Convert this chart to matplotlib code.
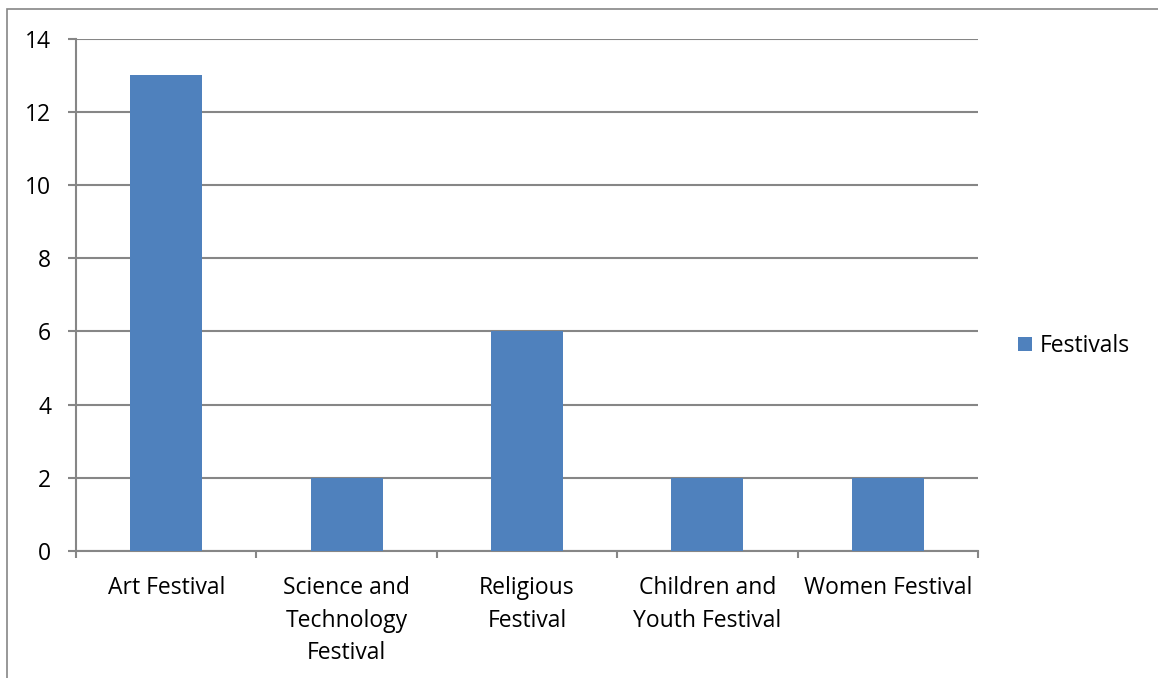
import matplotlib.pyplot as plt
import numpy as np
from matplotlib.patches import Rectangle

categories = ["Art Festival", "Science and\nTechnology\nFestival", "Religious\nFestival",
              "Children and\nYouth Festival", "Women Festival"]
values = [13, 2, 6, 2, 2]
series_name = "Festivals"
yticks = [0, 2, 4, 6, 8, 10, 12, 14]

plt.rcParams['font.family'] = ['Open Sans', 'DejaVu Sans']

W, H = 1158, 678
fig = plt.figure(figsize=(W / 100, H / 100), dpi=100)

# outer chart frame (runs off the right and bottom of the image)
fig.patches.append(Rectangle((7 / W, -0.1), 1.2, 1 - 9 / H + 0.1, transform=fig.transFigure,
                             fill=False, edgecolor='#868686', linewidth=1.2))

ax = fig.add_axes([76 / W, 1 - 551 / H, (978 - 76) / W, (551 - 38.5) / H])
x = np.arange(len(categories))
ax.bar(x, values, width=0.4, color='#4F81BD', label=series_name, zorder=3)

ax.set_xlim(-0.5, len(categories) - 0.5)
ax.set_ylim(0, 14)
ax.set_yticks(yticks)
ax.yaxis.grid(True, color='#868686', linewidth=1.5, zorder=0)

for s in ['top', 'right']:
    ax.spines[s].set_visible(False)
for s in ['left', 'bottom']:
    ax.spines[s].set_color('#868686')
    ax.spines[s].set_linewidth(1.5)

fs = 16.5
ax.set_xticks(x)
ax.set_xticklabels(categories, linespacing=1.48)
ax.tick_params(axis='x', length=0, pad=18, labelsize=fs)
ax.set_xticks(np.arange(len(categories) + 1) - 0.5, minor=True)
ax.tick_params(axis='x', which='minor', length=5, width=1.5, color='#868686', direction='out')
ax.tick_params(axis='y', length=6, width=1.5, color='#868686', pad=12, labelsize=fs)

ax.legend(loc='center left', bbox_to_anchor=(1.022, 0.40), frameon=False, fontsize=fs,
          handlelength=0.6, handleheight=0.6, handletextpad=0.35)

fig.savefig("out.png", dpi=100)
